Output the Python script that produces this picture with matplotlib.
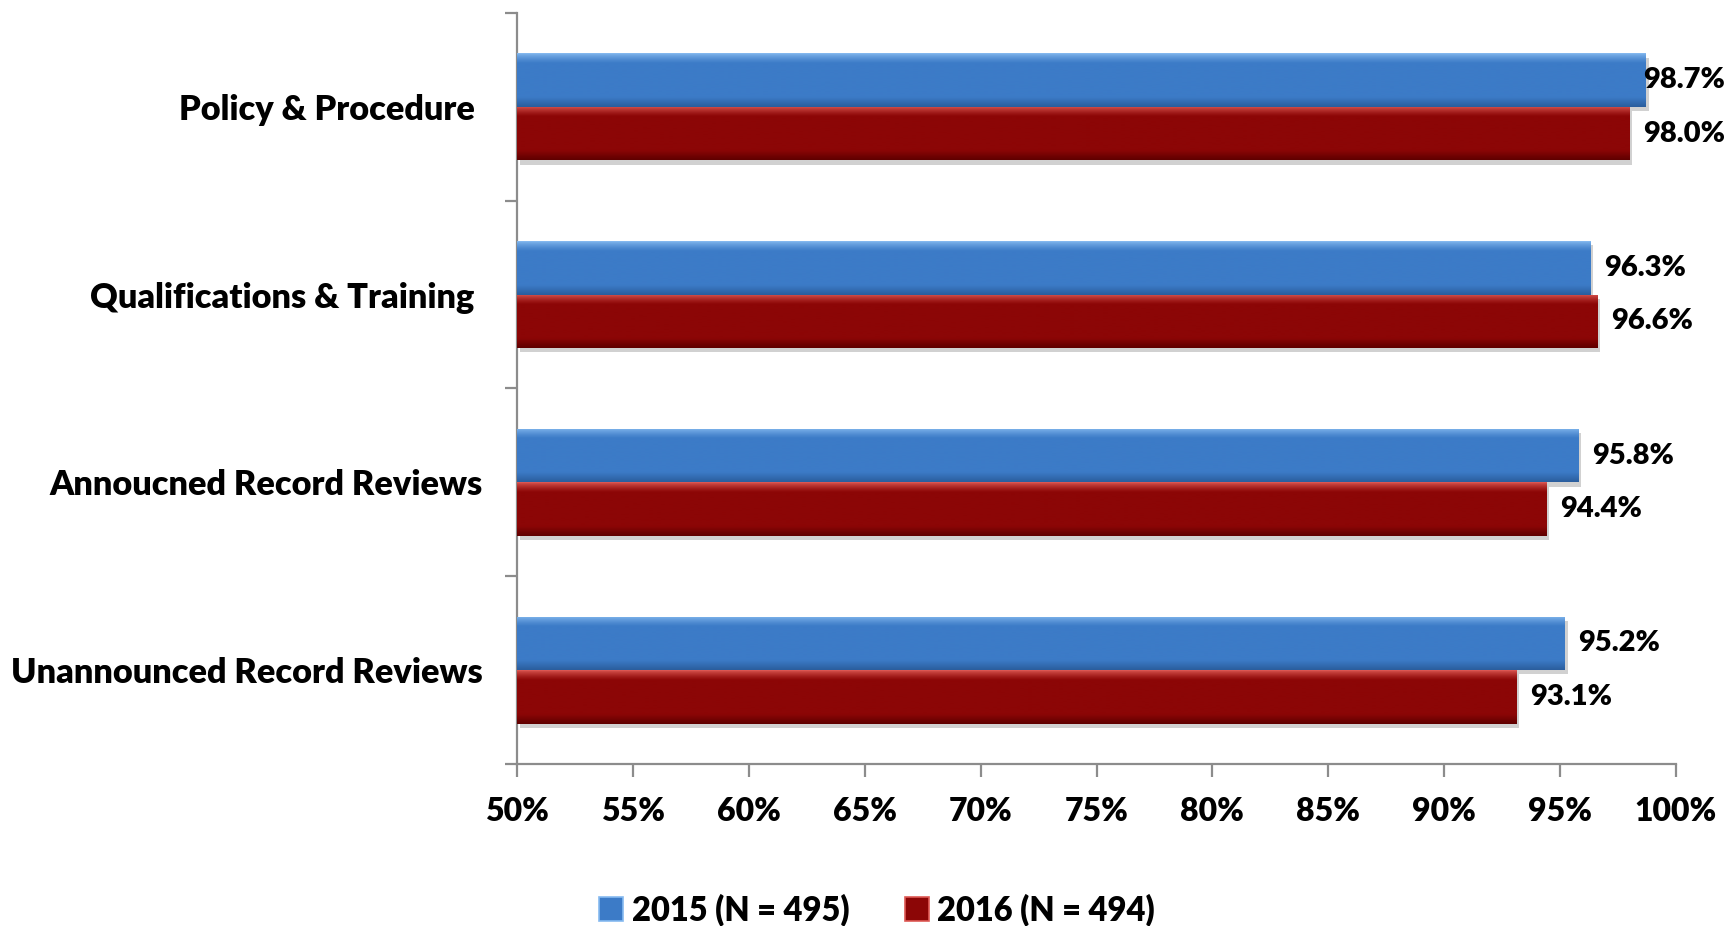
import numpy as np
import matplotlib
matplotlib.use("Agg")
import matplotlib.pyplot as plt
from matplotlib.patches import Patch
from matplotlib.colors import to_rgb
import matplotlib.patheffects as pe

categories = ["Policy & Procedure ", "Qualifications & Training ",
              "Annoucned Record Reviews", "Unannounced Record Reviews"]
series_names = ["2015 (N = 495)", "2016 (N = 494)"]
values_2015 = [98.7, 96.3, 95.8, 95.2]
values_2016 = [98.0, 96.6, 94.4, 93.1]
x_ticks = [50, 55, 60, 65, 70, 75, 80, 85, 90, 95, 100]

WEIGHT = 800
plt.rcParams["font.family"] = ["Lato", "DejaVu Sans"]
plt.rcParams["font.weight"] = WEIGHT

W, H = 1727, 926
fig = plt.figure(figsize=(W / 100, H / 100), dpi=100)
ax = fig.add_axes([517 / W, 162 / H, (1676 - 517) / W, (913 - 162) / H])

# colour stops: top highlight, body, bottom edge
styles = [
    dict(top="#86baf0", body="#3c7bc7", bottom="#2b5e9e", base="#3c7bc7"),
    dict(top="#de5a55", body="#8c0606", bottom="#600000", base="#8c0606"),
]

pos = np.arange(len(categories))
bar_h = 0.285
base = 50

def gradient(style, n=64):
    t = np.linspace(0, 1, n)
    top, body, bot = (np.array(to_rgb(style[k])) for k in ("top", "body", "bottom"))
    rows = []
    for v in t:
        if v < 0.18:
            c = top + (body - top) * (v / 0.18) ** 0.7
        elif v < 0.82:
            c = body
        else:
            c = body + (bot - body) * ((v - 0.82) / 0.18)
        rows.append(c)
    return np.array(rows).reshape(n, 1, 3)

all_bars = []
for i, (vals, st) in enumerate(zip([values_2015, values_2016], styles)):
    offs = pos - bar_h / 2 if i == 0 else pos + bar_h / 2
    bars = ax.barh(offs, [v - base for v in vals], left=base, height=bar_h,
                   color=st["base"], edgecolor="none", zorder=2,
                   path_effects=[pe.SimplePatchShadow(offset=(2, -3), shadow_rgbFace="#9a9a9a", alpha=0.45),
                                 pe.Normal()])
    all_bars.append((bars, st, vals))

ax.set_xlim(50, 100)
ax.set_ylim(len(categories) - 0.5, -0.5)

for bars, st, vals in all_bars:
    grad = gradient(st)
    for p in bars:
        x0, y0, w, h = p.get_x(), p.get_y(), p.get_width(), p.get_height()
        im = ax.imshow(grad, extent=(x0, x0 + w, y0 + h, y0), origin="upper",
                       aspect="auto", zorder=3, interpolation="bilinear")
        im.set_clip_path(p)

ax.set_xlim(50, 100)
ax.set_ylim(len(categories) - 0.5, -0.5)

# value labels
fig.canvas.draw()
renderer = fig.canvas.get_renderer()
for bars, st, vals in all_bars:
    for p, v in zip(bars, vals):
        yc = p.get_y() + p.get_height() / 2
        t = ax.annotate(f"{v:.1f}%", xy=(v, yc), xytext=(10, 0), textcoords="offset points",
                        ha="left", va="center", fontsize=21, fontweight=WEIGHT,
                        color="black", zorder=5, annotation_clip=False)
        bb = t.get_window_extent(renderer)
        if bb.x1 > W - 2:
            t.remove()
            xd, yd = ax.transData.transform((v, yc))
            fig.text((W - 2) / W, yd / H, f"{v:.1f}%", ha="right", va="center",
                     fontsize=21, fontweight=WEIGHT, color="black", zorder=5)

# axes styling
axis_col = "#8c8c8c"
for s in ("top", "right"):
    ax.spines[s].set_visible(False)
for s in ("left", "bottom"):
    ax.spines[s].set_color(axis_col)
    ax.spines[s].set_linewidth(1.6)

ax.set_xticks(x_ticks)
ax.set_xticklabels([f"{t}%" for t in x_ticks], fontsize=23, fontweight=WEIGHT)
ax.tick_params(axis="x", length=9, width=1.6, color=axis_col, pad=15)

ax.set_yticks(pos)
ax.set_yticklabels(categories, fontsize=24.7, fontweight=WEIGHT)
ax.tick_params(axis="y", length=0, pad=25)
ax.set_yticks(np.arange(-0.5, len(categories), 1.0), minor=True)
ax.tick_params(axis="y", which="minor", length=9, width=1.6, color=axis_col)

handles = [Patch(facecolor=st["body"], edgecolor=st["top"], linewidth=1.2) for st in styles]
fig.legend(handles, series_names, loc="center", bbox_to_anchor=(877 / W, 1 - 910 / H),
           ncol=2, frameon=False, prop=dict(size=23.5, weight=WEIGHT),
           handlelength=0.75, handleheight=0.75, handletextpad=0.25, columnspacing=1.7)

fig.savefig("out.png", dpi=100)
